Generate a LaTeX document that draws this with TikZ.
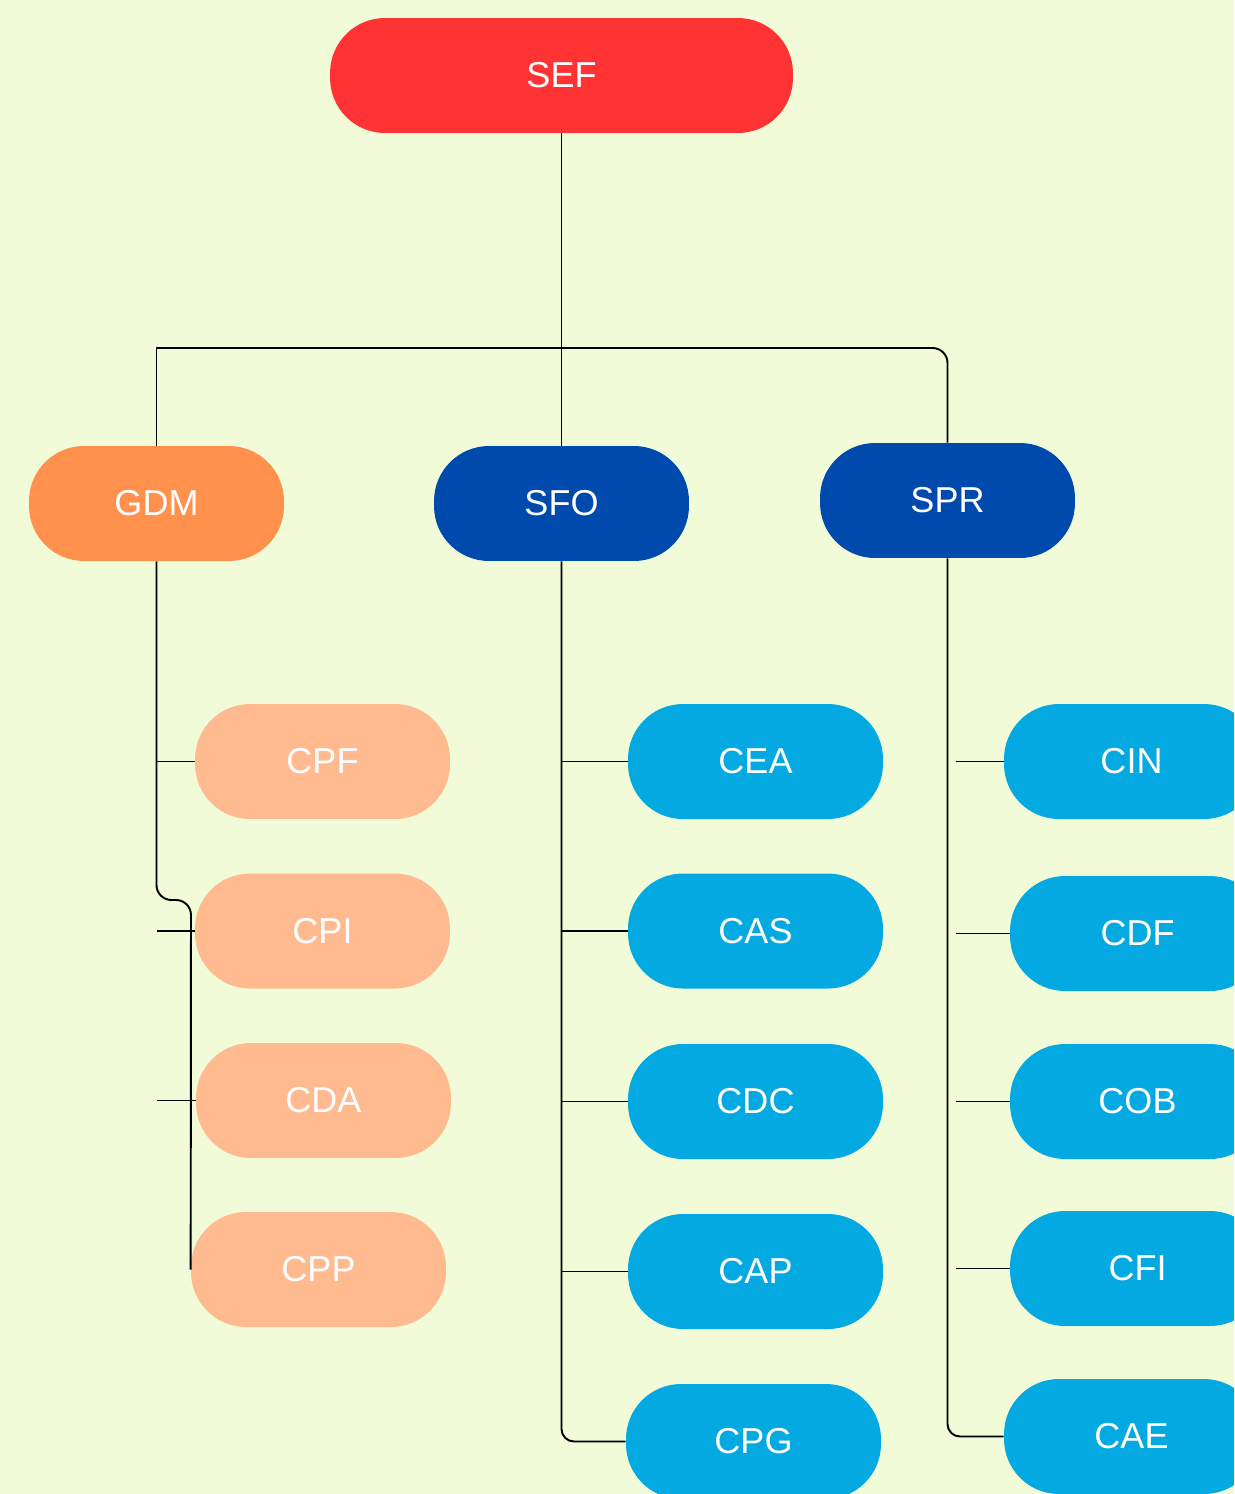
\documentclass[tikz,border=0pt]{standalone}
\usepackage{fontspec}
\setmainfont{Liberation Sans}
\definecolor{bgcol}{HTML}{F1FBD7}
\definecolor{sefred}{HTML}{FF3333}
\definecolor{gdmorange}{HTML}{FF914D}
\definecolor{cpeach}{HTML}{FFBB8F}
\definecolor{sdarkblue}{HTML}{004AAD}
\definecolor{clightblue}{HTML}{03A9E0}
\begin{document}
\begin{tikzpicture}[
            x=0.02cm, y=-0.02cm,
            box node/.style={rectangle,rounded corners=1.1cm,text=white,inner sep=0pt,
                font=\fontsize{20.5}{24}\selectfont,minimum width=5.1cm,minimum height=2.3cm},
            root node/.style={box node,fill=sefred,minimum width=9.26cm},
            head node/.style={box node,fill=sdarkblue},
            gdm node/.style={box node,fill=gdmorange},
            peach node/.style={box node,fill=cpeach},
            unit node/.style={box node,fill=clightblue},
            link/.style={draw,line width=1.1pt},
        ]
            \useasboundingbox (0,0) rectangle (1234,1494);
            \fill[bgcol] (0,0) rectangle (1234,1494);
            \clip (0,0) rectangle (1234,1494);

            \node[root node] (sef) at (561.5, 75.5) {SEF};
            \node[gdm node] (gdm) at (156.5, 503.5) {GDM};
            \node[head node] (sfo) at (561.5, 503.5) {SFO};
            \node[head node] (spr) at (947.5, 500.5) {SPR};

            \node[peach node] (cpf) at (322.5, 761.5) {CPF};
            \node[peach node] (cpi) at (322.5, 931) {CPI};
            \node[peach node] (cda) at (323.5, 1100.5) {CDA};
            \node[peach node] (cpp) at (318.5, 1269.5) {CPP};

            \node[unit node] (cea) at (755.5, 761.5) {CEA};
            \node[unit node] (cas) at (755.5, 931) {CAS};
            \node[unit node] (cdc) at (755.5, 1101.5) {CDC};
            \node[unit node] (cap) at (755.5, 1271.5) {CAP};
            \node[unit node] (cpg) at (753.5, 1441.5) {CPG};

            \node[unit node] (cin) at (1131.5, 761.5) {CIN};
            \node[unit node] (cdf) at (1137.5, 933.5) {CDF};
            \node[unit node] (cob) at (1137.5, 1101.5) {COB};
            \node[unit node] (cfi) at (1137.5, 1268.5) {CFI};
            \node[unit node] (cae) at (1131.5, 1436.5) {CAE};

            \coordinate (bar) at (561.5, 348);
            \coordinate (gdmjog) at (191, 900);
            \coordinate (sprtap) at (956, 558);

            % top level
            \path[link] (sef.south) -- (sfo.north);
            \path[link] (gdm.north) |- (bar);
            \path[link,rounded corners=0.3cm] (bar) -| (spr.north);

            % GDM branch
            \path[link,rounded corners=0.3cm] (gdm.south) |- (gdmjog) -- (cpp.west);
            \path[link] (gdm.south |- cpf.west) -- (cpf.west);
            \path[link] (gdm.south |- cpi.west) -- (cpi.west);
            \path[link] (gdm.south |- cda.west) -- (cda.west);

            % SFO branch
            \path[link,rounded corners=0.25cm] (sfo.south) |- (cpg.west);
            \path[link] (sfo.south |- cea.west) -- (cea.west);
            \path[link] (sfo.south |- cas.west) -- (cas.west);
            \path[link] (sfo.south |- cdc.west) -- (cdc.west);
            \path[link] (sfo.south |- cap.west) -- (cap.west);

            % SPR branch
            \path[link,rounded corners=0.25cm] (spr.south) |- (cae.west);
            \path[link] (sprtap |- cin.west) -- (cin.west);
            \path[link] (sprtap |- cdf.west) -- (cdf.west);
            \path[link] (sprtap |- cob.west) -- (cob.west);
            \path[link] (sprtap |- cfi.west) -- (cfi.west);
        \end{tikzpicture}
\end{document}
